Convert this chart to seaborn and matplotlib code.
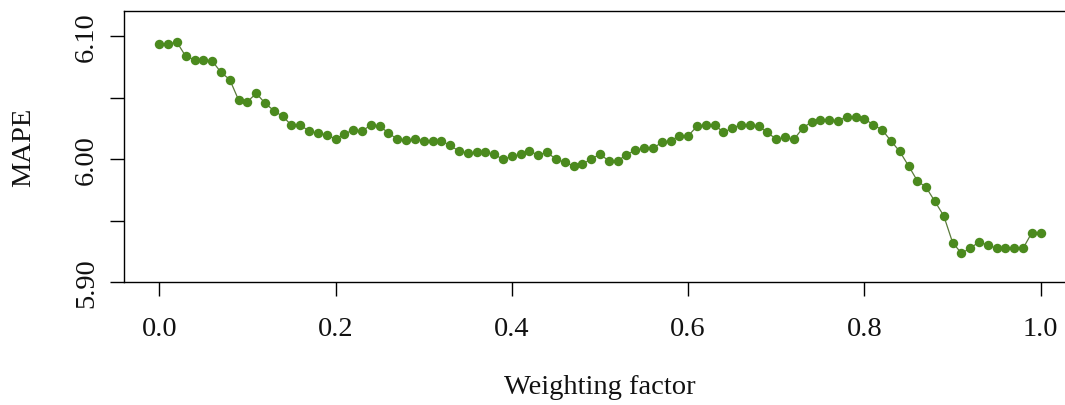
import numpy as np
import pandas as pd
import matplotlib
matplotlib.use("Agg")
import matplotlib.pyplot as plt
import seaborn as sns

# Weighting factor grid (step 0.01) and the resulting MAPE
weights = np.round(np.linspace(0.0, 1.0, 101), 2)
mape = [
    6.0935, 6.0935, 6.0949, 6.0835, 6.0807, 6.0807, 6.0797, 6.0705, 6.0645, 6.0480,
    6.0466, 6.0534, 6.0455, 6.0393, 6.0347, 6.0276, 6.0276, 6.0228, 6.0209, 6.0198,
    6.0163, 6.0203, 6.0238, 6.0225, 6.0279, 6.0266, 6.0214, 6.0160, 6.0152, 6.0163,
    6.0149, 6.0149, 6.0149, 6.0111, 6.0065, 6.0049, 6.0054, 6.0054, 6.0040, 5.9997,
    6.0022, 6.0038, 6.0062, 6.0035, 6.0054, 6.0000, 5.9973, 5.9946, 5.9960, 6.0000,
    6.0040, 5.9986, 5.9986, 6.0035, 6.0073, 6.0087, 6.0087, 6.0136, 6.0149, 6.0189,
    6.0189, 6.0266, 6.0279, 6.0279, 6.0217, 6.0252, 6.0279, 6.0279, 6.0266, 6.0217,
    6.0160, 6.0176, 6.0160, 6.0252, 6.0303, 6.0317, 6.0317, 6.0311, 6.0344, 6.0342,
    6.0328, 6.0278, 6.0238, 6.0149, 6.0062, 5.9946, 5.9824, 5.9770, 5.9656, 5.9539,
    5.9323, 5.9236, 5.9276, 5.9328, 5.9301, 5.9276, 5.9276, 5.9276, 5.9276, 5.9404,
    5.9404,
]
x_ticks = [0.0, 0.2, 0.4, 0.6, 0.8, 1.0]
x_tick_labels = ["0.0", "0.2", "0.4", "0.6", "0.8", "1.0"]
y_ticks = [5.90, 5.95, 6.00, 6.05, 6.10]
y_tick_labels = ["5.90", "", "6.00", "", "6.10"]

df = pd.DataFrame({"Weighting factor": weights, "MAPE": mape})

sns.set_style("ticks")
plt.rcParams["font.family"] = ["Liberation Serif", "DejaVu Serif"]

fig = plt.figure(figsize=(10.65, 4.06), dpi=100)
ax = fig.add_axes([124 / 1065, 1 - 283.3 / 406, 952 / 1065, 271 / 406])

green = "#4B8A1E"
sns.lineplot(data=df, x="Weighting factor", y="MAPE", ax=ax,
             color="#5a7a3a", linewidth=0.9, marker="o", markersize=6.8,
             markerfacecolor=green, markeredgecolor=green, markeredgewidth=0)

ax.set_xlim(-0.04, 1.04)
ax.set_ylim(5.90, 6.12)
ax.set_xticks(x_ticks)
ax.set_xticklabels(x_tick_labels)
ax.set_yticks(y_ticks)
ax.set_yticklabels(y_tick_labels, rotation=90, va="center")

for side in ["left", "right", "top", "bottom"]:
    ax.spines[side].set_visible(True)
    ax.spines[side].set_color("black")
    ax.spines[side].set_linewidth(1.0)

ax.tick_params(axis="both", length=10, width=1.0, color="black",
               labelsize=20.5, labelcolor="#111111")
ax.tick_params(axis="x", pad=14)
ax.tick_params(axis="y", pad=8)

ax.set_xlabel("Weighting factor", fontsize=20.5, labelpad=24, color="#111111")
ax.set_ylabel("MAPE", fontsize=20.5, labelpad=27, color="#111111")

fig.savefig("out.png", dpi=100)
